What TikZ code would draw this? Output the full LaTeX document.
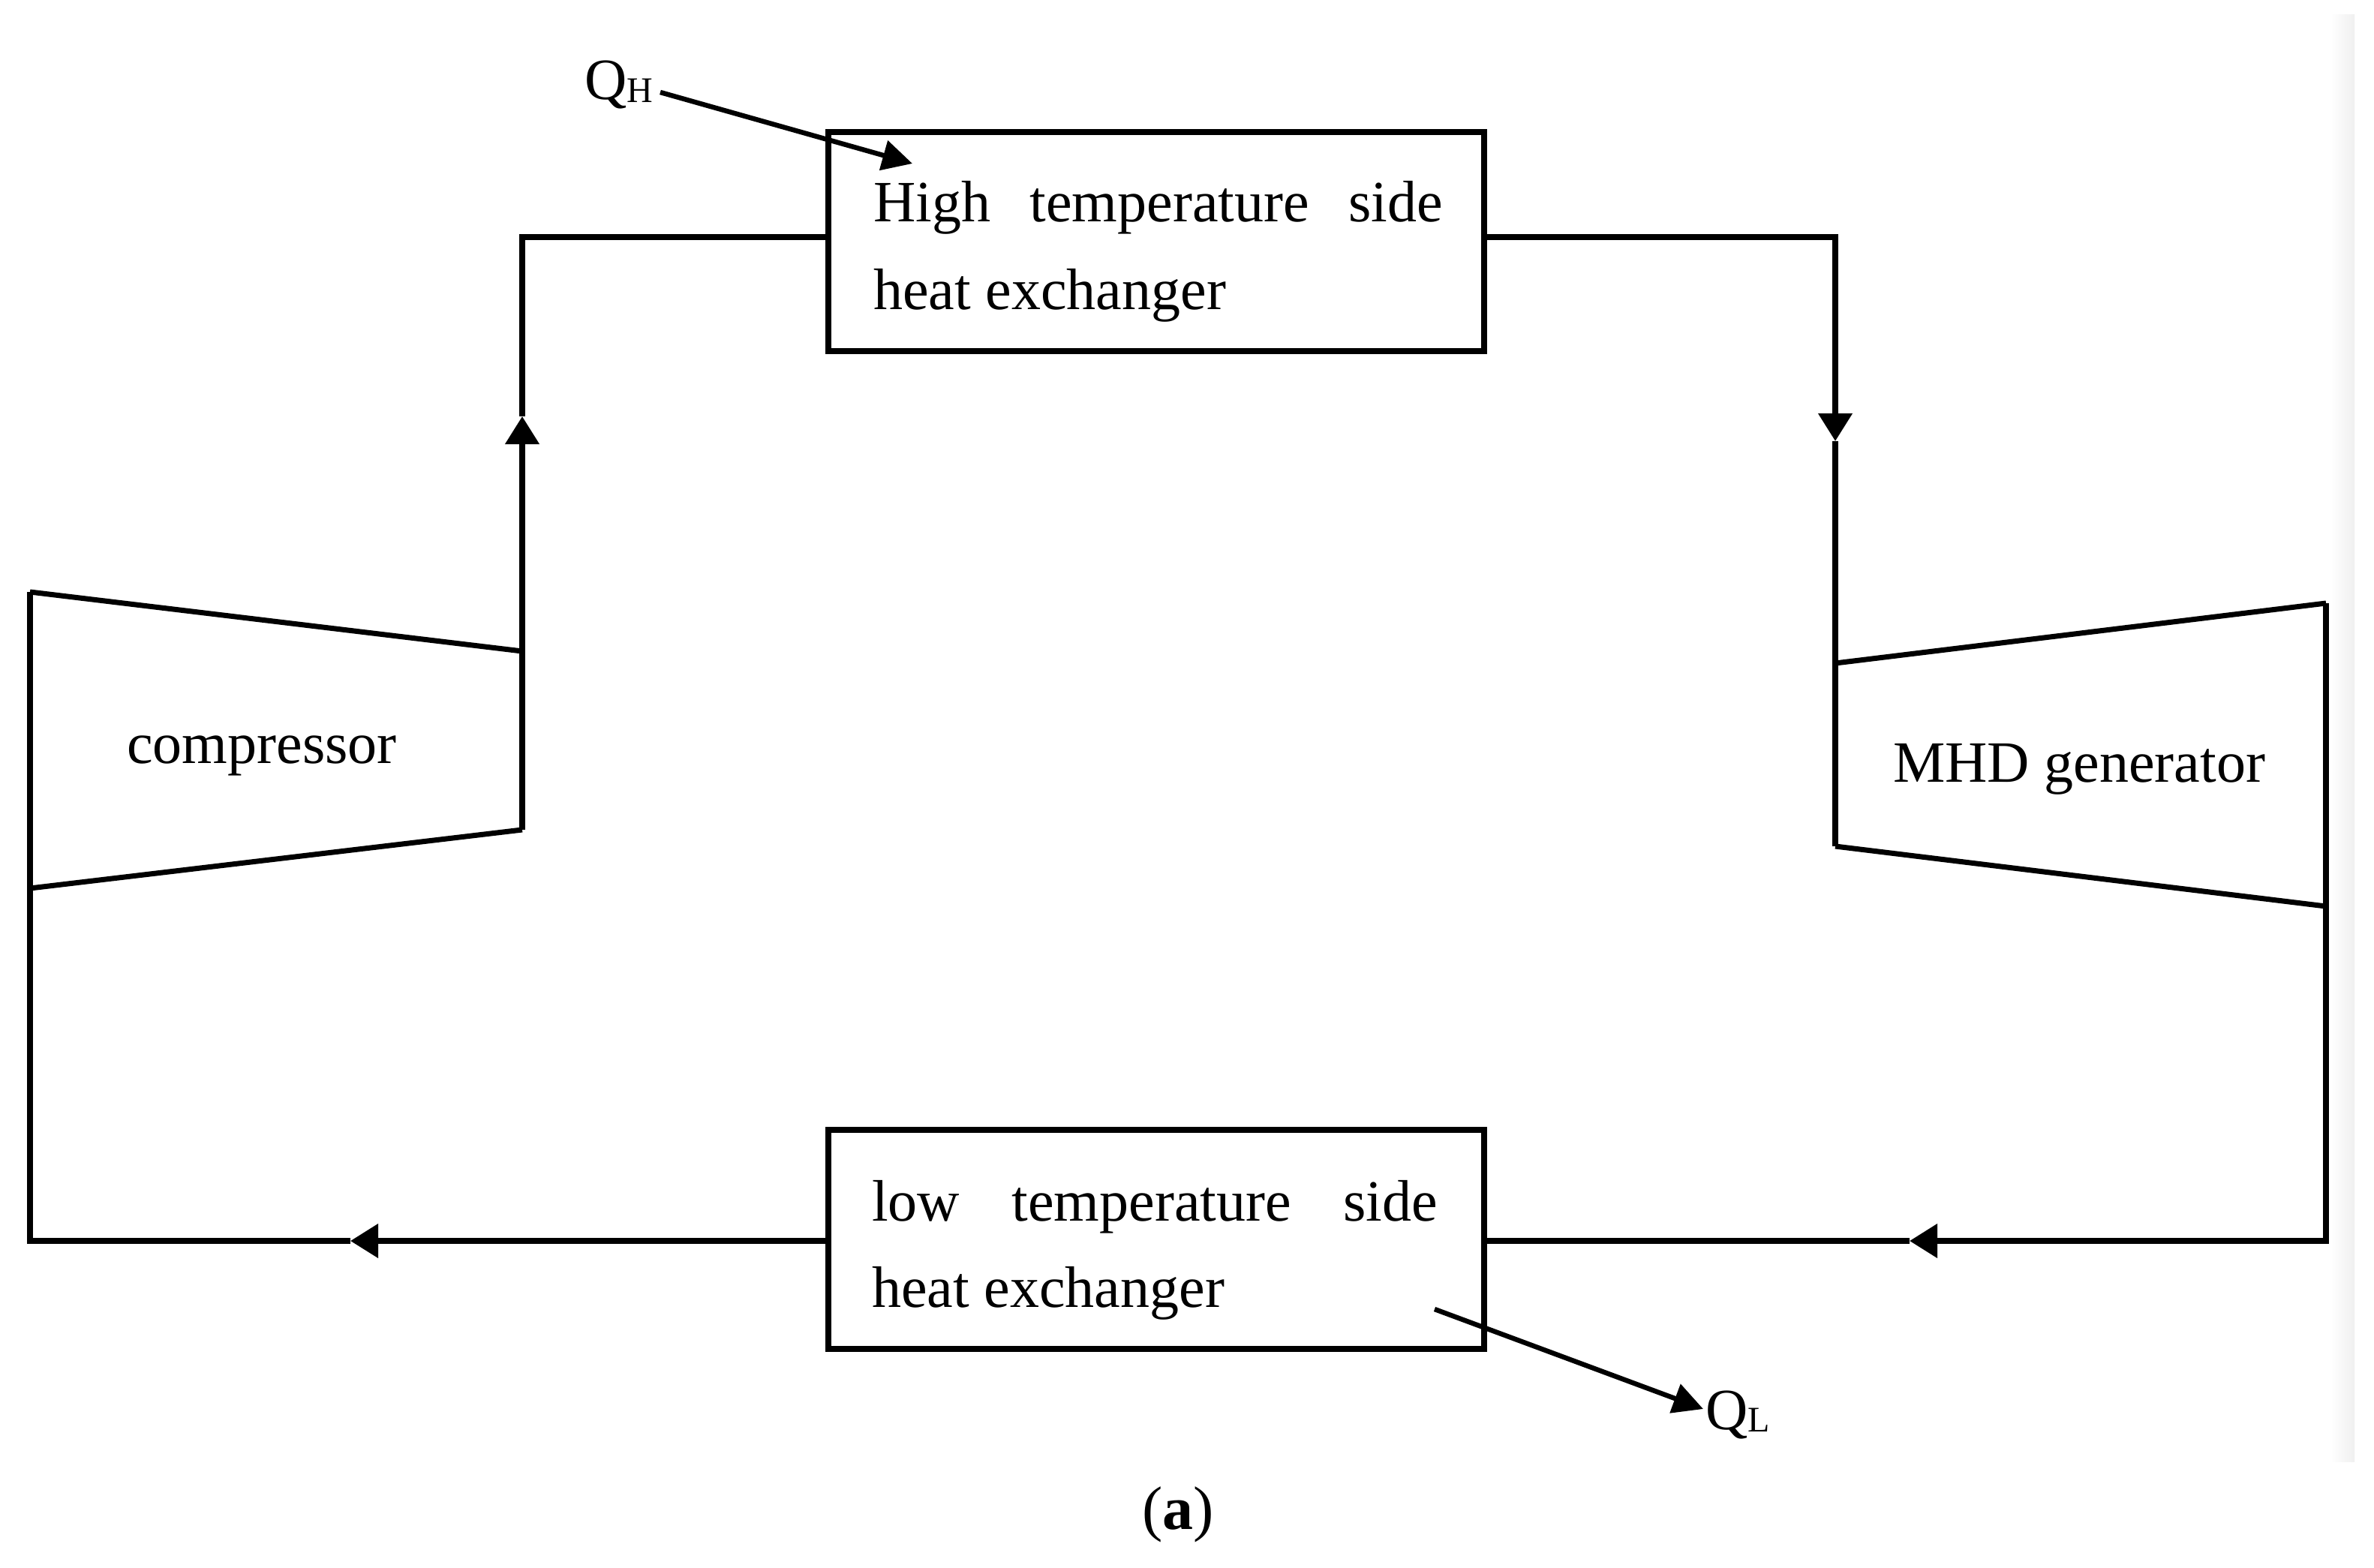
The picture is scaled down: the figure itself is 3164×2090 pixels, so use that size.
\documentclass[tikz,border=0pt]{standalone}
\usepackage{fontspec}
\setmainfont{Liberation Serif}
\usetikzlibrary{arrows.meta}
\tikzset{
  ln/.style={line width=7.5pt, line join=miter},
  slant/.style={line width=7pt},
  hxbox/.style={draw, line width=7.5pt, minimum width=874pt, minimum height=292pt, inner sep=0pt},
  txt/.style={inner sep=0pt, font=\fontsize{78pt}{117pt}\selectfont},
  flowtip/.style={-{Triangle[length=37pt,width=44pt]}},
  heattip/.style={line width=6.5pt, -{Triangle[length=40pt,width=40pt]}},
}
\newcommand{\subsm}[1]{\raisebox{-3pt}{\fontsize{48pt}{48pt}\selectfont #1}}
\begin{document}
\begin{tikzpicture}[x=1pt,y=-1pt]
\useasboundingbox (0,0) rectangle (3164,2090);
\shade[left color=white, right color=black!6, draw=none] (3106,20) rectangle (3138,1948);
% heat exchangers
\node[hxbox] (topbox) at (1541,322) {};
\node[hxbox] (lowbox) at (1541,1652) {};
\node[txt, anchor=base west] (ht1) at (1164,295) {\makebox[759pt][l]{High\hfill temperature\hfill side}};
\node[txt, anchor=base west] (ht2) at (1164,412) {heat exchanger};
\node[txt, anchor=base west] (lt1) at (1162,1627) {\makebox[754pt][l]{low\hfill temperature\hfill side}};
\node[txt, anchor=base west] (lt2) at (1162,1742) {heat exchanger};
% compressor
\coordinate (ctl) at (40,789);
\coordinate (cbl) at (40,1184);
\coordinate (ctr) at (696,868);
\coordinate (cbr) at (696,1106);
\draw[slant] (ctl) -- (ctr);
\draw[slant] (cbl) -- (cbr);
\draw[ln] (cbr) -- (ctr);
\draw[ln] (ctl) -- (cbl);
\node[txt, anchor=base] (comp) at (349,1017) {compressor};
% MHD generator
\coordinate (mtl) at (2446,884);
\coordinate (mbl) at (2446,1128);
\coordinate (mtr) at (3100,804);
\coordinate (mbr) at (3100,1208);
\draw[slant] (mtl) -- (mtr);
\draw[slant] (mbl) -- (mbr);
\draw[ln] (mbl) -- (mtl);
\draw[ln] (mtr) -- (mbr);
\node[txt, anchor=base] (mhd) at (2771,1042) {MHD generator};
% corners and arrow positions
\coordinate (tl) at (696,316);
\coordinate (tr) at (2446,316);
\coordinate (br) at (3100,1654);
\coordinate (bl) at (40,1654);
\coordinate (aup) at (696,555);
\coordinate (adn) at (2446,588);
\coordinate (ar) at (2545,1654);
\coordinate (al) at (467,1654);
% connectors
\draw[ln, flowtip] (ctr) -- (aup);
\draw[ln] (aup) -- (tl) -- (topbox.west |- tl);
\draw[ln, flowtip] (topbox.east |- tr) -- (tr) -- (adn);
\draw[ln] (adn) -- (mtl);
\draw[ln, flowtip] (mbr) -- (br) -- (ar);
\draw[ln] (ar) -- (lowbox.east |- br);
\draw[ln, flowtip] (lowbox.west |- bl) -- (al);
\draw[ln] (al) -- (bl) -- (cbl);
% heat flows
\node[txt, anchor=base west] (qh) at (779,133) {Q\subsm{H}};
\node[txt, anchor=base west] (ql) at (2273,1905) {Q\subsm{L}};
\coordinate (qhs) at (880,123);
\coordinate (qht) at (1216,218);
\coordinate (qls) at (1912,1745);
\coordinate (qlt) at (2270,1878);
\draw[heattip] (qhs) -- (qht);
\draw[heattip] (qls) -- (qlt);
% caption
\node[inner sep=0pt, anchor=base, font=\fontsize{82pt}{82pt}\selectfont] (cap) at (1570,2038) {(\textbf{a})};
\end{tikzpicture}
\end{document}
